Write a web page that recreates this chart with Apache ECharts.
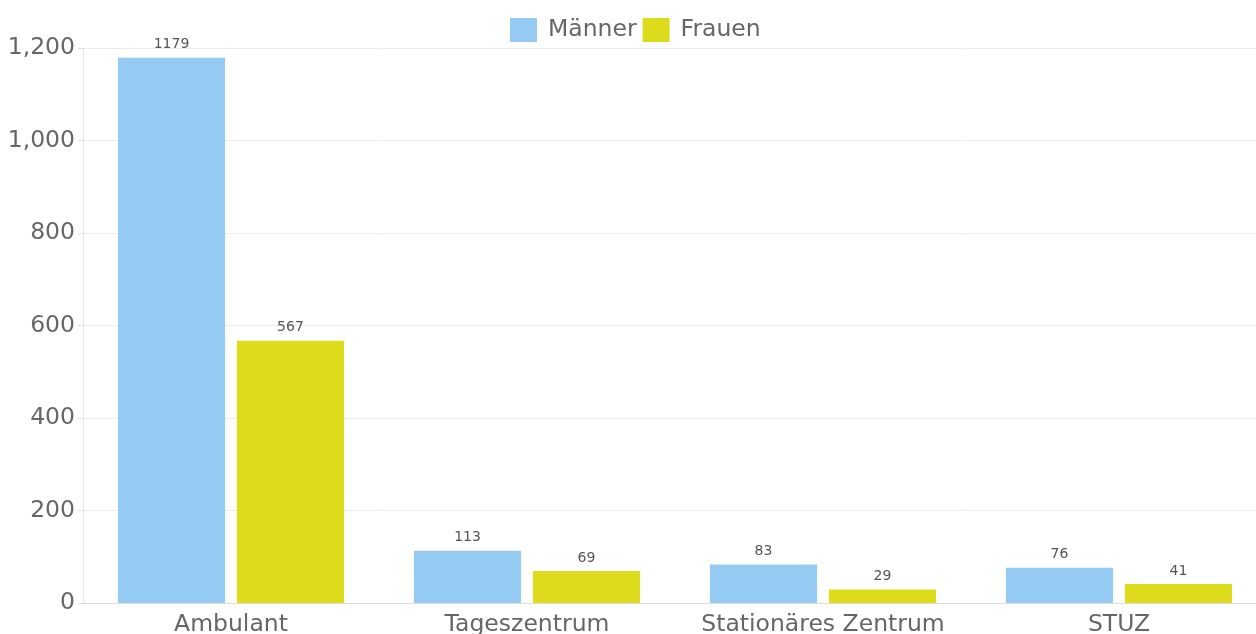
<!DOCTYPE html>
<html>
<head>
<meta charset="utf-8">
<script src="https://cdn.jsdelivr.net/npm/echarts@6/dist/echarts.min.js"></script>
<style>
  html, body { margin: 0; padding: 0; background: #fff; }
  #chart { width: 1256px; height: 634px; }
</style>
</head>
<body>
<div id="chart"></div>
<script>
const categories = ['Ambulant', 'Tageszentrum', 'Stationäres Zentrum', 'STUZ'];
const maenner = [1179, 113, 83, 76];
const frauen = [567, 69, 29, 41];

const myChart = echarts.init(document.getElementById('chart'));
const font = 'DejaVu Sans';

const option = {
  textStyle: { fontFamily: font },
  legend: {
    top: 13,
    left: 505,
    icon: 'rect',
    itemWidth: 27,
    itemHeight: 24,
    itemGap: 6,
    textStyle: { fontSize: 23.5, color: '#666', fontFamily: font, padding: [0, 0, 0, 6] },
    data: ['Männer', 'Frauen']
  },
  grid: { left: 83, top: 48, width: 1184, height: 555, containLabel: false, outerBoundsMode: 'none' },
  xAxis: {
    type: 'category',
    data: categories,
    axisLine: { lineStyle: { color: '#ddd' } },
    axisTick: { show: false },
    axisLabel: { interval: 0, fontSize: 23.5, color: '#666', margin: 10, fontFamily: font }
  },
  yAxis: {
    type: 'value',
    min: 0,
    max: 1200,
    interval: 200,
    axisLine: { show: true, lineStyle: { color: '#e6e6e6' } },
    axisTick: { show: true, length: 5, lineStyle: { color: '#ddd' } },
    splitLine: { lineStyle: { color: '#ececec' } },
    axisLabel: {
      fontSize: 23.5, color: '#666', margin: 8, fontFamily: font,
      formatter: v => v.toLocaleString('en-US')
    }
  },
  series: [
    {
      name: 'Männer',
      type: 'bar',
      data: maenner,
      barGap: '11%',
      barCategoryGap: '23.6%',
      itemStyle: { color: '#95CAF2' },
      label: { show: true, position: 'top', fontSize: 14, color: '#555', distance: 6, fontFamily: font }
    },
    {
      name: 'Frauen',
      type: 'bar',
      data: frauen,
      itemStyle: { color: '#DDDC1C' },
      label: { show: true, position: 'top', fontSize: 14, color: '#555', distance: 6, fontFamily: font }
    }
  ]
};

myChart.setOption(option);
</script>
</body>
</html>
